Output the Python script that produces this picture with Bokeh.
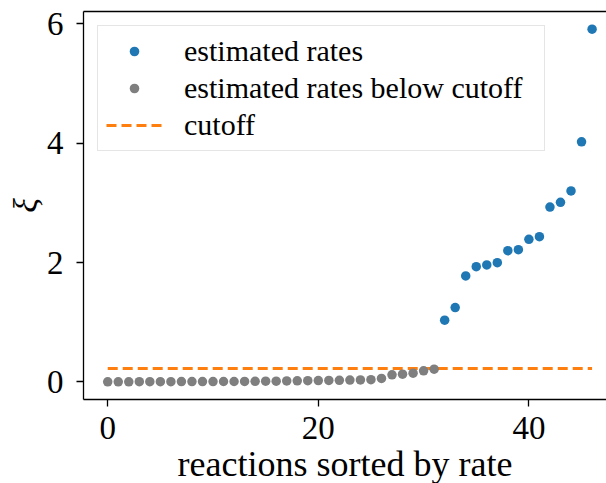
from bokeh.plotting import figure
from bokeh.models import Range1d, LinearAxis, FixedTicker, Legend, LegendItem, Title
from bokeh.embed import file_html
from bokeh.resources import INLINE

# ---- data ----
rates_below = [0.000, 0.001, 0.001, 0.002, 0.002, 0.003, 0.003, 0.004, 0.004, 0.005,
               0.005, 0.006, 0.006, 0.007, 0.008, 0.011, 0.012, 0.015, 0.017, 0.019,
               0.021, 0.024, 0.026, 0.029, 0.032, 0.037, 0.058, 0.117, 0.129, 0.146,
               0.184, 0.213]
rates_above = [1.034, 1.245, 1.776, 1.931, 1.960, 1.998, 2.199, 2.216, 2.390, 2.434,
               2.930, 3.010, 3.200, 4.025, 5.913]
cutoff = 0.222
x_ticks = [0, 20, 40]
y_ticks = [0, 2, 4, 6]
x_label = "reactions sorted by rate"
y_label = "ξ"
legend_labels = ["estimated rates", "estimated rates below cutoff", "cutoff"]

idx_below = list(range(len(rates_below)))
idx_above = list(range(len(rates_below), len(rates_below) + len(rates_above)))
n_total = len(rates_below) + len(rates_above)

FONT = "Liberation Serif"
BLUE = "#1f77b4"
GRAY = "#7f7f7f"
ORANGE = "#ff7f0e"

p = figure(width=606, height=483, output_backend="svg", toolbar_location=None,
           x_range=Range1d(-2.3, 47.37), y_range=Range1d(-0.296, 6.209),
           min_border_left=83, min_border_right=0, min_border_top=11, min_border_bottom=84)
p.outline_line_color = None
p.grid.visible = False
p.background_fill_color = "white"
p.border_fill_color = "white"

for ax in (p.xaxis[0], p.yaxis[0]):
    ax.axis_line_width = 1.3
    ax.axis_line_color = "black"
    ax.major_tick_line_width = 1.3
    ax.major_tick_line_color = "black"
    ax.major_tick_out = 7
    ax.major_tick_in = 0
    ax.minor_tick_out = 0
    ax.minor_tick_in = 0
    ax.major_label_text_font = FONT
    ax.major_label_text_font_size = "33px"
    ax.major_label_text_color = "black"
    ax.axis_label_text_color = "black"

p.xaxis[0].ticker = FixedTicker(ticks=x_ticks)
p.yaxis[0].ticker = FixedTicker(ticks=y_ticks)
p.xaxis[0].major_label_standoff = 10
p.yaxis[0].major_label_standoff = 13
p.yaxis[0].axis_label = y_label
p.yaxis[0].axis_label_text_font = FONT
p.yaxis[0].axis_label_text_font_style = "italic"
p.yaxis[0].axis_label_text_font_size = "34px"
p.yaxis[0].axis_label_standoff = 0

top = LinearAxis(ticker=FixedTicker(ticks=[]), major_label_text_font_size="0px",
                 major_tick_out=0, major_tick_in=0, minor_tick_out=0, minor_tick_in=0,
                 major_label_standoff=0, axis_line_width=1.3, axis_line_color="black")
p.add_layout(top, "above")

cut = p.line(x=[0, n_total - 1], y=[cutoff, cutoff], line_color=ORANGE, line_width=3,
             line_dash="10 5")
r_below = p.scatter(x=idx_below, y=rates_below, size=9.5, fill_color=GRAY, line_color=None)
r_above = p.scatter(x=idx_above, y=rates_above, size=9.5, fill_color=BLUE, line_color=None)

legend = Legend(items=[LegendItem(label=legend_labels[0], renderers=[r_above]),
                       LegendItem(label=legend_labels[1], renderers=[r_below]),
                       LegendItem(label=legend_labels[2], renderers=[cut])],
                location="top_left", margin=14, padding=8, spacing=3,
                glyph_width=56, glyph_height=24, label_standoff=22, label_height=30,
                label_width=352,
                label_text_font=FONT, label_text_font_size="30px", label_text_color="black",
                border_line_color="#cccccc", border_line_width=1.5,
                background_fill_color="white", background_fill_alpha=0.8)
p.add_layout(legend)

xt = Title(text=x_label, align="center", vertical_align="bottom", standoff=0,
           text_font=FONT, text_font_size="36px", text_font_style="normal",
           text_color="black")
p.add_layout(xt, "below")

open("out.html", "w").write(file_html(p, INLINE))
